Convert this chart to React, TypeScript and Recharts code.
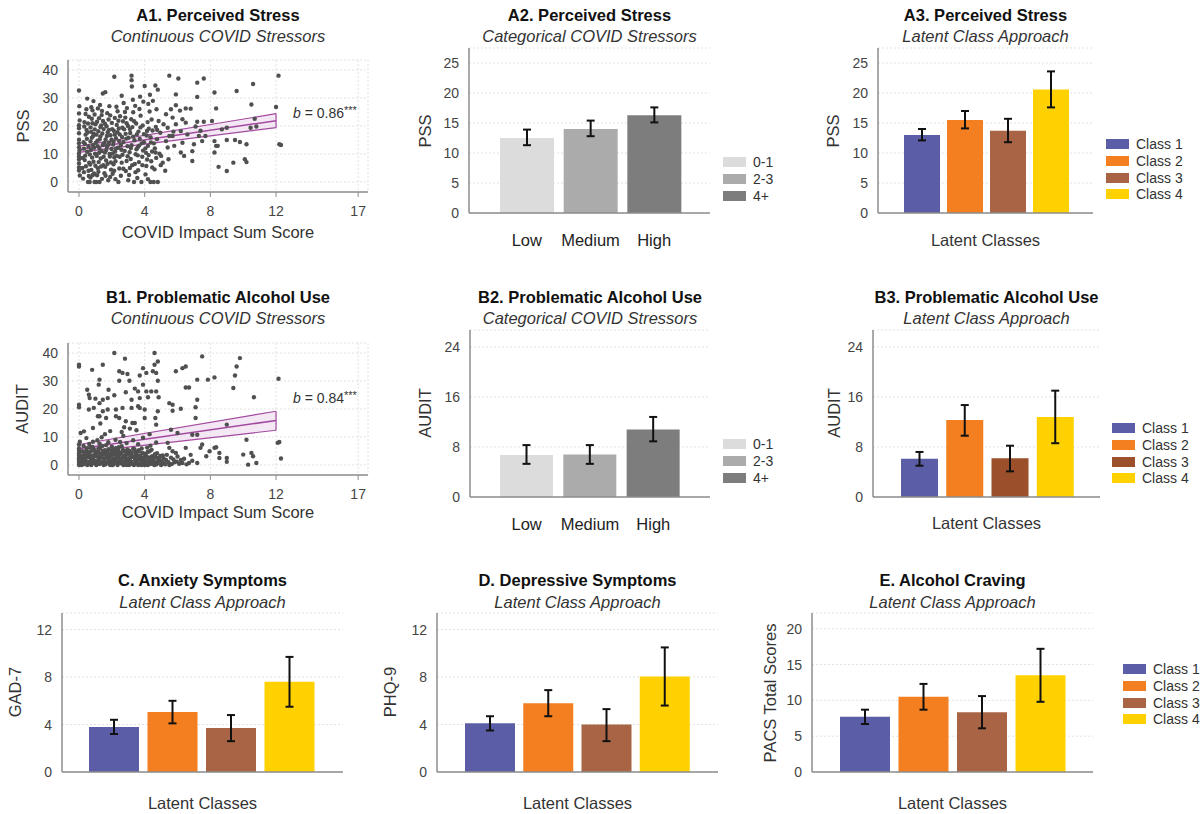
import React from "react";
import {
  ComposedChart, BarChart, Bar, Cell, ErrorBar, XAxis, YAxis, CartesianGrid,
  Scatter, Line, Area, ReferenceLine,
} from "recharts";

const FONT = '"Liberation Sans", Arial, sans-serif';

// ---------- data ----------
const stressGroups = ["Low", "Medium", "High"];
const stressLegend = ["0-1", "2-3", "4+"];
const grayFills = ["#dcdcdc", "#ababab", "#7d7d7d"];

const classNames = ["Class 1", "Class 2", "Class 3", "Class 4"];
const classFills = ["#5b5ea6", "#f37f21", "#a86444", "#ffd100"];
const classFillsB3 = ["#5b5ea6", "#f37f21", "#9c4f2b", "#ffd100"];

// A2 / B2 (categorical stressors)
const pssGroup = [12.5, 14.0, 16.3];
const pssGroupLo = [11.3, 12.8, 15.1];
const pssGroupHi = [13.9, 15.4, 17.6];
const auditGroup = [6.7, 6.8, 10.8];
const auditGroupLo = [5.3, 5.3, 8.9];
const auditGroupHi = [8.3, 8.3, 12.8];

// latent class panels
const pssClass = [13.0, 15.5, 13.7, 20.6];
const pssClassLo = [12.1, 14.1, 11.8, 17.6];
const pssClassHi = [14.0, 17.0, 15.7, 23.6];
const auditClass = [6.1, 12.3, 6.2, 12.8];
const auditClassLo = [5.0, 9.8, 4.1, 8.6];
const auditClassHi = [7.2, 14.7, 8.2, 17.0];
const gadClass = [3.8, 5.05, 3.7, 7.6];
const gadClassLo = [3.2, 4.1, 2.6, 5.5];
const gadClassHi = [4.4, 6.0, 4.8, 9.7];
const phqClass = [4.1, 5.8, 4.0, 8.05];
const phqClassLo = [3.5, 4.7, 2.6, 5.6];
const phqClassHi = [4.7, 6.9, 5.3, 10.5];
const pacsClass = [7.7, 10.5, 8.35, 13.5];
const pacsClassLo = [6.7, 8.7, 6.1, 9.8];
const pacsClassHi = [8.7, 12.3, 10.6, 17.2];

// regression fits (A1 / B1)
const fitX = [0, 12];
const pssFit = [11.6, 21.9];
const pssCiLo = [10.6, 19.4];
const pssCiHi = [12.8, 24.4];
const auditFit = [5.8, 15.9];
const auditCiLo = [4.4, 12.4];
const auditCiHi = [7.3, 19.2];

// A1 scatter: COVID impact sum score vs PSS
const pssPoints: [number, number][] = [
  [0,32.7],[0,24.5],[0,20.3],[0,19.2],[0,17.4],[0,15.1],[0,13.8],[0,12.4],[0,10.2],[0,9.1],[0,8.0],[0,6.6],[0,5.2],[0,4.1],[0.05,2.3],[0.02,27.1],[0.04,22.0],[0.03,11.3],
  [0.25,1.2],[0.3,3.5],[0.35,7.8],[0.28,14.2],[0.4,16.9],[0.33,21.4],[0.45,26.0],[0.5,29.8],[0.55,0.0],[0.6,2.1],[0.42,5.6],[0.5,10.8],[0.58,12.7],[0.46,18.6],[0.6,23.3],[0.38,9.4],
  [0.65,0.0],[0.7,1.6],[0.75,4.3],[0.68,6.2],[0.8,8.7],[0.72,11.4],[0.85,13.1],[0.78,15.8],[0.9,17.2],[0.7,19.5],[0.82,21.0],[0.95,24.1],[0.75,26.7],[0.88,28.9],[0.95,0.0],[0.92,3.0],[1.0,5.8],[0.98,10.1],[0.86,16.4],[1.0,20.6],
  [1.05,0.0],[1.1,2.4],[1.15,4.9],[1.2,7.1],[1.08,9.3],[1.25,11.9],[1.12,14.7],[1.3,16.3],[1.18,18.1],[1.35,20.2],[1.22,22.8],[1.4,25.4],[1.28,27.5],[1.45,31.6],[1.4,1.1],[1.48,6.0],[1.32,8.4],[1.45,13.2],[1.38,23.9],[1.15,26.3],[1.5,18.9],[1.25,0.0],
  [1.55,3.1],[1.6,5.4],[1.65,7.7],[1.58,10.5],[1.7,12.6],[1.62,15.2],[1.75,17.8],[1.68,19.9],[1.8,22.3],[1.72,24.6],[1.85,27.1],[1.9,1.8],[1.95,4.4],[1.88,9.1],[1.98,11.8],[1.82,14.0],[1.92,16.7],[2.0,21.1],[1.6,32.1],[1.78,0.6],
  [2.05,2.9],[2.1,6.3],[2.15,8.8],[2.2,10.9],[2.08,13.4],[2.25,15.6],[2.12,18.3],[2.3,20.4],[2.18,22.9],[2.35,25.3],[2.15,37.6],[2.4,0.0],[2.45,4.8],[2.38,12.2],[2.48,17.0],[2.42,19.1],[2.28,26.9],[2.5,23.5],[2.22,1.0],
  [2.55,2.2],[2.6,6.9],[2.65,9.7],[2.58,11.5],[2.7,14.3],[2.62,16.1],[2.75,18.8],[2.68,21.7],[2.8,25.0],[2.72,28.2],[2.85,3.9],[2.9,7.5],[2.95,12.8],[2.88,15.5],[2.98,20.0],[2.82,23.0],[2.92,26.4],[2.6,30.8],[3.0,0.6],
  [3.05,2.5],[3.1,5.0],[3.15,8.2],[3.08,10.6],[3.2,13.1],[3.12,17.5],[3.25,19.6],[3.18,22.4],[3.3,24.9],[3.22,34.1],[3.2,36.4],[3.2,38.0],[3.35,0.0],[3.4,6.4],[3.45,9.9],[3.38,14.9],[3.48,20.9],[3.42,27.2],[3.28,29.4],[3.5,11.7],
  [3.55,1.4],[3.6,4.2],[3.65,7.1],[3.58,12.4],[3.7,15.4],[3.62,18.0],[3.75,23.7],[3.68,26.1],[3.8,0.0],[3.85,9.0],[3.9,11.2],[3.82,13.8],[3.95,17.1],[3.88,20.2],[3.92,28.7],[4.0,34.3],[3.72,30.5],
  [4.05,2.7],[4.1,5.7],[4.15,8.0],[4.08,10.4],[4.2,12.9],[4.12,16.6],[4.25,19.0],[4.18,21.4],[4.3,25.2],[4.22,27.9],[4.2,1.0],[4.35,0.0],[4.4,7.4],[4.45,10.9],[4.38,14.1],[4.48,18.4],[4.42,22.3],[4.32,31.2],[4.5,29.0],
  [4.55,0.0],[4.65,34.5],[4.8,33.0],[4.6,4.5],[4.7,8.6],[4.62,12.0],[4.75,15.3],[4.68,19.7],[4.85,21.8],[4.72,26.0],[4.9,10.1],[4.95,17.6],[4.8,0.0],[4.98,6.0],
  [5.0,9.3],[5.1,6.9],[5.15,20.6],[5.3,14.6],[5.3,24.2],[5.4,12.3],[5.4,19.4],[5.5,16.4],[5.5,38.0],[5.7,16.4],[5.7,23.0],[5.8,12.9],[5.9,20.6],[5.9,27.4],[5.9,31.3],[5.25,4.0],[5.6,26.0],[5.45,8.1],[5.75,18.0],
  [6.05,37.0],[6.2,10.5],[6.2,18.2],[6.3,14.0],[6.3,22.4],[6.4,9.3],[6.5,21.2],[6.5,26.3],[6.8,26.2],[6.9,7.5],[6.9,11.0],[6.6,17.0],[6.15,25.5],
  [7.0,13.5],[7.1,19.8],[7.2,21.5],[7.2,30.4],[7.2,35.5],[7.3,16.4],[7.5,14.6],[7.6,21.5],[7.6,37.0],[7.7,16.4],[7.4,18.3],
  [8.1,21.8],[8.25,32.0],[8.25,14.6],[8.25,10.5],[8.35,26.3],[8.35,12.9],[8.45,12.9],[8.5,5.4],[8.7,18.8],[9.0,19.4],[9.0,15.0],[9.0,3.9],[9.4,6.9],[9.5,15.0],[9.6,32.5],[9.8,14.3],
  [10.1,8.1],[10.2,7.1],[10.2,13.5],[10.45,19.4],[10.5,27.7],[10.6,35.0],[10.7,22.6],[10.8,19.8],[12.0,26.8],[12.15,38.0],[12.2,13.5],[12.3,13.2],
  // dense core
  [0.2,5.0],[0.22,8.6],[0.3,11.9],[0.36,13.6],[0.32,19.8],[0.4,24.3],[0.48,15.4],[0.52,17.7],[0.55,20.9],[0.58,4.0],[0.62,6.9],[0.66,9.8],[0.7,14.5],[0.74,17.9],[0.78,22.6],[0.82,25.6],
  [0.84,2.5],[0.88,7.2],[0.92,12.2],[0.96,18.8],[1.02,14.0],[1.06,16.9],[1.1,21.5],[1.14,12.8],[1.18,3.6],[1.22,10.4],[1.26,15.2],[1.3,19.6],[1.34,5.5],[1.38,11.0],[1.42,17.3],[1.46,21.8],
  [1.5,9.0],[1.54,13.9],[1.58,20.8],[1.62,2.2],[1.66,11.4],[1.7,16.4],[1.74,6.5],[1.78,13.3],[1.82,18.6],[1.86,10.0],[1.9,23.8],[1.94,7.0],[1.98,15.1],[2.02,18.9],[2.06,10.2],[2.1,14.4],
  [2.14,4.0],[2.18,16.9],[2.22,7.4],[2.26,12.0],[2.3,9.3],[2.34,17.8],[2.4,21.9],[2.44,14.6],[2.48,9.0],[2.55,13.2],[2.64,19.4],[2.7,4.7],[2.78,11.1],[2.84,17.2],[2.9,21.0],[2.96,9.2],
  [3.02,15.8],[3.1,18.9],[3.16,12.1],[3.24,6.0],[3.3,16.2],[3.36,21.7],[3.44,3.5],[3.52,17.0],[3.58,9.5],[3.66,13.0],[3.74,19.5],[3.86,6.0],[3.96,14.2],[4.04,12.0],[4.14,18.2],[4.24,9.6],
  [4.36,16.0],[4.46,5.2],[4.56,13.8],[4.66,10.5],[4.76,18.6],
];

// B1 scatter: COVID impact sum score vs AUDIT
const auditPoints: [number, number][] = [
  [0,35.8],[0,35.2],[0,21.5],[0,20.6],[0,7.3],[0,0],[0,0.8],[0,1.6],[0,2.4],[0,3.3],[0,4.1],[0,5.0],[0,5.9],[0.1,11.4],[0.05,8.3],
  [0.15,0],[0.2,1.2],[0.25,2.6],[0.3,0.4],[0.35,3.8],[0.4,1.9],[0.45,5.2],[0.5,0],[0.55,2.9],[0.6,4.4],[0.65,1.1],[0.7,6.3],[0.75,0],[0.8,3.4],[0.85,2.0],[0.9,5.7],[0.95,0.6],[1.0,3.9],[0.28,6.8],[0.62,7.5],[0.45,9.6],[0.85,8.3],[0.85,13.2],
  [1.05,0],[1.1,1.6],[1.15,4.7],[1.2,2.8],[1.25,0.3],[1.3,6.1],[1.35,3.5],[1.4,1.0],[1.45,5.0],[1.5,0],[1.55,2.3],[1.6,4.2],[1.65,7.1],[1.7,0.8],[1.75,3.0],[1.8,5.6],[1.85,1.5],[1.9,0],[1.95,3.8],[2.0,6.5],[1.12,8.8],[1.38,9.9],[1.58,11.0],[1.78,8.1],[1.25,7.6],
  [2.05,0],[2.1,2.1],[2.15,4.5],[2.2,1.2],[2.25,6.0],[2.3,3.2],[2.35,0],[2.4,5.1],[2.45,1.8],[2.5,3.9],[2.55,0.6],[2.6,6.7],[2.65,2.7],[2.7,0],[2.75,4.8],[2.8,1.4],[2.85,3.5],[2.9,0],[2.95,5.5],[3.0,2.2],[2.22,9.0],[2.5,8.2],[2.7,10.4],[2.9,7.8],
  [3.05,0],[3.1,1.7],[3.15,4.0],[3.2,0.5],[3.25,2.9],[3.3,5.8],[3.35,0],[3.4,2.4],[3.45,4.6],[3.5,1.0],[3.55,3.4],[3.6,0],[3.65,5.3],[3.7,1.9],[3.75,3.0],[3.8,0],[3.85,4.3],[3.9,1.3],[3.95,2.6],[4.0,0],[3.3,8.8],[3.6,7.4],[3.9,9.7],
  [4.05,3.6],[4.1,1.1],[4.2,0],[4.25,2.5],[4.3,4.9],[4.4,0.4],[4.45,3.1],[4.5,1.5],[4.6,0],[4.65,2.9],[4.75,4.2],[4.8,0.7],[4.9,2.0],[5.0,0],[4.35,6.9],[4.7,8.0],[4.15,6.2],
  [5.1,3.4],[5.2,0.5],[5.3,1.8],[5.5,0],[5.6,2.6],[5.7,4.9],[5.8,0.9],[6.0,3.0],[6.1,0.4],[6.3,0.7],[6.4,2.2],[6.7,0.7],[6.8,3.6],[5.4,7.9],[5.5,6.1],[5.9,4.3],[6.5,6.1],
  [0.8,34.0],[1.45,35.8],[2.15,40.0],[2.8,38.0],[4.6,40.0],[4.8,37.0],[4.6,35.8],[4.5,33.5],[2.45,33.5],[2.65,32.9],[2.95,32.5],[3.07,30.1],[2.45,30.1],[3.9,34.6],[4.1,32.9],[3.7,32.0],[4.7,32.9],[4.8,30.1],
  [5.9,33.5],[6.3,34.6],[6.5,35.2],[7.5,38.8],[9.8,38.2],[9.6,35.2],[9.5,32.0],[8.25,31.3],[7.85,30.5],[7.2,30.5],[6.5,27.7],[6.7,27.7],[9.4,27.5],[10.65,24.2],[12.15,30.8],
  [1.25,30.5],[1.2,28.7],[0.5,26.9],[0.6,25.1],[0.65,23.9],[1.0,23.7],[1.25,22.1],[1.45,23.3],[1.75,23.9],[1.8,26.9],[2.15,24.9],[2.85,26.0],[3.2,23.3],[3.4,27.3],[3.6,26.3],[3.9,28.7],[4.1,26.3],[4.4,26.3],[4.7,26.3],[4.85,24.2],[4.2,24.2],[3.7,23.9],
  [0.6,19.8],[0.9,20.4],[1.25,17.4],[1.45,19.2],[1.75,19.8],[2.25,19.8],[2.65,20.4],[3.2,20.4],[3.6,21.0],[3.7,20.4],[4.0,19.8],[4.8,19.2],[5.5,22.1],[5.7,21.5],[5.7,19.4],[6.2,20.1],[7.1,20.6],[7.2,23.3],[7.1,16.8],
  [4.65,16.8],[4.7,14.4],[4.0,16.8],[3.4,15.0],[3.25,15.0],[2.85,15.6],[2.75,13.5],[2.25,17.4],[2.45,16.8],[1.65,16.8],[1.15,17.4],
  [1.9,12.1],[2.6,11.8],[3.1,13.0],[3.5,12.4],[4.3,11.0],[1.3,14.8],[0.3,12.0],[5.6,12.6],[6.0,11.4],
  [9.0,14.4],[6.9,10.8],[7.2,10.8],[7.5,7.3],[7.4,6.1],[8.25,6.1],[8.35,6.3],[8.55,4.3],[8.55,2.5],[9.0,2.5],[9.0,1.1],[7.95,4.9],[10.2,9.0],[10.0,3.7],[10.5,4.3],[10.6,3.1],[10.3,0.1],[10.8,0.7],[12.1,7.9],[12.2,8.2],[12.3,2.3],[7.75,3.1],[7.2,0.7],
  // dense low band
  [0.1,0.6],[0.12,2.0],[0.18,3.4],[0.22,4.9],[0.26,0.2],[0.32,1.5],[0.38,2.8],[0.42,4.2],[0.48,6.0],[0.52,1.0],[0.58,3.6],[0.63,0.3],[0.68,2.5],[0.72,4.9],[0.78,1.8],[0.82,6.4],
  [0.88,0.9],[0.92,3.0],[0.98,4.8],[1.02,1.4],[1.08,3.2],[1.14,0.5],[1.18,5.9],[1.22,2.0],[1.28,4.1],[1.32,0.8],[1.38,2.6],[1.42,6.8],[1.48,3.7],[1.52,1.3],[1.58,5.3],[1.62,0.2],
  [1.68,3.3],[1.72,5.0],[1.78,1.9],[1.82,4.0],[1.88,0.7],[1.92,2.9],[1.98,5.1],[2.02,1.5],[2.08,3.6],[2.12,0.3],[2.18,5.6],[2.24,2.4],[2.28,4.4],[2.32,1.1],[2.38,3.0],[2.42,6.3],
  [2.48,0.8],[2.52,2.3],[2.58,4.5],[2.62,1.3],[2.68,5.4],[2.72,3.2],[2.78,0.4],[2.82,2.6],[2.88,4.9],[2.92,1.8],[2.98,3.9],[3.02,0.9],[3.08,5.0],[3.12,2.8],[3.18,1.2],[3.22,4.4],
  [3.28,0.2],[3.32,3.0],[3.38,5.6],[3.42,1.5],[3.48,3.7],[3.52,0.6],[3.58,2.1],[3.62,4.8],[3.68,0.4],[3.72,3.3],[3.78,1.6],[3.82,5.9],[3.88,2.4],[3.92,0.5],[3.98,4.0],[4.02,1.8],
  [4.08,0.2],[4.12,3.0],[4.18,4.6],[4.22,1.2],[4.28,0.5],[4.32,2.7],[4.38,1.6],[4.42,5.4],[4.48,0.3],[4.55,2.2],[4.62,3.8],[4.68,1.0],[4.72,0.2],[4.78,2.5],[4.85,1.4],[4.95,3.2],
  [5.05,1.1],[5.15,2.3],[5.25,0.2],[5.35,3.6],[5.45,1.0],[5.65,0.3],[5.75,2.0],[5.95,1.2],[6.2,1.8],[6.55,0.2],[6.9,1.5],
];

// ---------- layout helpers ----------
type Box = { x0: number; y0: number; x1: number; y1: number };
const YW = 50, MT = 12, MR = 14, XH = 48;
const AXIS = { stroke: "#8c8c8c", strokeWidth: 1.5 };
const PURPLE = "#a24a9f";

function frame(b: Box) {
  return {
    style: { position: "absolute", left: b.x0 - YW, top: b.y0 - MT } as React.CSSProperties,
    width: b.x1 - b.x0 + YW + MR,
    height: b.y1 - b.y0 + MT + XH,
  };
}

function Label({ cx, cy, size = 16.5, bold = false, italic = false, rotate = false, children }: any) {
  return (
    <div style={{
      position: "absolute", left: cx, top: cy, whiteSpace: "nowrap", lineHeight: 1,
      transform: `translate(-50%,-50%)${rotate ? " rotate(-90deg)" : ""}`,
      fontSize: size, fontWeight: bold ? 700 : 400, fontStyle: italic ? "italic" : "normal",
      color: bold ? "#111" : "#333", fontFamily: FONT,
    }}>{children}</div>
  );
}

function Legend({ left, top, labels, fills }: { left: number; top: number; labels: string[]; fills: string[] }) {
  return (
    <div style={{ position: "absolute", left, top: top - 8, fontFamily: FONT }}>
      {labels.map((l, i) => (
        <div key={l} style={{ display: "flex", alignItems: "center", height: 16.7 }}>
          <div style={{ width: 23, height: 10, background: fills[i], marginRight: 7 }} />
          <span style={{ fontSize: 14, color: "#333" }}>{l}</span>
        </div>
      ))}
    </div>
  );
}

function toRows(names: string[], v: number[], lo: number[], hi: number[]) {
  return names.map((name, i) => ({ name, v: v[i], err: [v[i] - lo[i], hi[i] - v[i]] }));
}

const Dot = (p: any) => <circle cx={p.cx} cy={p.cy} r={2.2} fill="#505050" />;

function ScatterPanel({ box, points, fit, lo, hi }: { box: Box; points: [number, number][]; fit: number[]; lo: number[]; hi: number[] }) {
  const f = frame(box);
  const fitRows = fitX.map((x, i) => ({ x, fit: fit[i], ci: [lo[i], hi[i]] }));
  const pts = points.map(([x, y]) => ({ x, y }));
  return (
    <div style={f.style}>
      <ComposedChart width={f.width} height={f.height} data={fitRows} margin={{ top: MT, right: MR, left: 0, bottom: 0 }}>
        <CartesianGrid stroke="#e2e2e2" strokeDasharray="2 2" />
        <XAxis type="number" dataKey="x" domain={[-0.67, 17.6]} ticks={[0, 4, 8, 12, 17]} interval={0} allowDataOverflow
          height={XH} axisLine={AXIS} tickLine={{ stroke: "#8c8c8c" }} tickSize={5} tickMargin={9}
          tick={{ fill: "#444", fontSize: 14, fontFamily: FONT }} />
        <YAxis type="number" domain={[-3.6, 43.6]} ticks={[0, 10, 20, 30, 40]} interval={0} allowDataOverflow
          width={YW} axisLine={AXIS} tickLine={false} tickMargin={4}
          tick={{ fill: "#444", fontSize: 14, fontFamily: FONT }} />
        <Scatter data={pts} dataKey="y" shape={Dot} isAnimationActive={false} />
        <Area type="linear" dataKey="ci" fill="#efd9ee" fillOpacity={0.6} stroke={PURPLE} strokeWidth={1.2} dot={false} activeDot={false} isAnimationActive={false} />
        <Line type="linear" dataKey="fit" stroke={PURPLE} strokeWidth={1.5} dot={false} activeDot={false} isAnimationActive={false} />
        {fitX.map((x, i) => (
          <ReferenceLine key={x} segment={[{ x, y: lo[i] }, { x, y: hi[i] }]} stroke={PURPLE} strokeWidth={1.2} />
        ))}
      </ComposedChart>
    </div>
  );
}

function BarPanel({ box, rows, fills, domain, ticks, barSize, pad, cats = false }: any) {
  const f = frame(box);
  return (
    <div style={f.style}>
      <BarChart width={f.width} height={f.height} data={rows} margin={{ top: MT, right: MR, left: 0, bottom: 0 }}>
        <CartesianGrid vertical={false} stroke="#e2e2e2" strokeDasharray="2 2" />
        <XAxis dataKey="name" height={XH} padding={pad} axisLine={AXIS} tickLine={false} interval={0}
          tickMargin={15} tick={cats ? { fill: "#222", fontSize: 16.5, fontFamily: FONT } : false} />
        <YAxis type="number" domain={domain} ticks={ticks} interval={0} allowDataOverflow width={YW}
          axisLine={AXIS} tickLine={false} tickMargin={4} tick={{ fill: "#444", fontSize: 14, fontFamily: FONT }} />
        <Bar dataKey="v" barSize={barSize} isAnimationActive={false}>
          {rows.map((_: any, i: number) => <Cell key={i} fill={fills[i]} />)}
          <ErrorBar dataKey="err" width={4} stroke="#111" strokeWidth={2} isAnimationActive={false} />
        </Bar>
      </BarChart>
    </div>
  );
}

function BText({ left, cy, value }: { left: number; cy: number; value: string }) {
  return (
    <div style={{ position: "absolute", left, top: cy - 8, fontFamily: FONT, fontSize: 14, color: "#333", whiteSpace: "nowrap", lineHeight: "16px" }}>
      <i>b</i> = {value}<span style={{ fontSize: 11, verticalAlign: 4, color: "#333" }}>***</span>
    </div>
  );
}

export default function App() {
  const A1: Box = { x0: 68, y0: 60, x1: 368, y1: 192 };
  const B1: Box = { x0: 68, y0: 343, x1: 368, y1: 475 };
  const A2: Box = { x0: 469, y0: 48, x1: 710, y1: 213 };
  const A3: Box = { x0: 878, y0: 48, x1: 1093, y1: 213 };
  const B2: Box = { x0: 470, y0: 330, x1: 710, y1: 497 };
  const B3: Box = { x0: 873, y0: 330, x1: 1100, y1: 497 };
  const C: Box = { x0: 62, y0: 613, x1: 343, y1: 772 };
  const D: Box = { x0: 437, y0: 613, x1: 718, y1: 772 };
  const E: Box = { x0: 812, y0: 613, x1: 1093, y1: 772 };
  const mid = (b: Box) => (b.x0 + b.x1) / 2;

  return (
    <div style={{ position: "fixed", left: 0, top: 0, width: 1203, height: 814, background: "#fff", overflow: "hidden", fontFamily: FONT }}>
      {/* row A */}
      <Label cx={mid(A1)} cy={15} bold>A1. Perceived Stress</Label>
      <Label cx={mid(A1)} cy={36} italic>Continuous COVID Stressors</Label>
      <ScatterPanel box={A1} points={pssPoints} fit={pssFit} lo={pssCiLo} hi={pssCiHi} />
      <Label cx={23} cy={126} rotate>PSS</Label>
      <Label cx={mid(A1)} cy={232}>COVID Impact Sum Score</Label>
      <BText left={293} cy={110} value="0.86" />

      <Label cx={mid(A2)} cy={15} bold>A2. Perceived Stress</Label>
      <Label cx={mid(A2)} cy={36} italic>Categorical COVID Stressors</Label>
      <BarPanel box={A2} rows={toRows(stressGroups, pssGroup, pssGroupLo, pssGroupHi)} fills={grayFills}
        domain={[0, 27.5]} ticks={[0, 5, 10, 15, 20, 25]} barSize={54} pad={{ left: 26, right: 24 }} cats />
      <Label cx={425} cy={131} rotate>PSS</Label>
      <Legend left={723} top={162} labels={stressLegend} fills={grayFills} />

      <Label cx={mid(A3)} cy={15} bold>A3. Perceived Stress</Label>
      <Label cx={mid(A3)} cy={36} italic>Latent Class Approach</Label>
      <BarPanel box={A3} rows={toRows(classNames, pssClass, pssClassLo, pssClassHi)} fills={classFills}
        domain={[0, 27.5]} ticks={[0, 5, 10, 15, 20, 25]} barSize={36} pad={{ left: 22, right: 21 }} />
      <Label cx={833} cy={131} rotate>PSS</Label>
      <Label cx={mid(A3)} cy={240}>Latent Classes</Label>
      <Legend left={1106} top={144} labels={classNames} fills={classFills} />

      {/* row B */}
      <Label cx={mid(B1)} cy={297} bold>B1. Problematic Alcohol Use</Label>
      <Label cx={mid(B1)} cy={318} italic>Continuous COVID Stressors</Label>
      <ScatterPanel box={B1} points={auditPoints} fit={auditFit} lo={auditCiLo} hi={auditCiHi} />
      <Label cx={22} cy={409} rotate>AUDIT</Label>
      <Label cx={mid(B1)} cy={512}>COVID Impact Sum Score</Label>
      <BText left={293} cy={395} value="0.84" />

      <Label cx={mid(B2)} cy={297} bold>B2. Problematic Alcohol Use</Label>
      <Label cx={mid(B2)} cy={318} italic>Categorical COVID Stressors</Label>
      <BarPanel box={B2} rows={toRows(stressGroups, auditGroup, auditGroupLo, auditGroupHi)} fills={grayFills}
        domain={[0, 26.7]} ticks={[0, 8, 16, 24]} barSize={53} pad={{ left: 25, right: 25 }} cats />
      <Label cx={425} cy={413} rotate>AUDIT</Label>
      <Legend left={723} top={444} labels={stressLegend} fills={grayFills} />

      <Label cx={mid(B3)} cy={297} bold>B3. Problematic Alcohol Use</Label>
      <Label cx={mid(B3)} cy={318} italic>Latent Class Approach</Label>
      <BarPanel box={B3} rows={toRows(classNames, auditClass, auditClassLo, auditClassHi)} fills={classFillsB3}
        domain={[0, 26.7]} ticks={[0, 8, 16, 24]} barSize={37} pad={{ left: 24, right: 22 }} />
      <Label cx={834} cy={413} rotate>AUDIT</Label>
      <Label cx={mid(B3)} cy={523}>Latent Classes</Label>
      <Legend left={1112} top={428} labels={classNames} fills={classFillsB3} />

      {/* row C-E */}
      <Label cx={mid(C)} cy={580} bold>C. Anxiety Symptoms</Label>
      <Label cx={mid(C)} cy={602} italic>Latent Class Approach</Label>
      <BarPanel box={C} rows={toRows(classNames, gadClass, gadClassLo, gadClassHi)} fills={classFills}
        domain={[0, 13.4]} ticks={[0, 4, 8, 12]} barSize={50} pad={{ left: 23, right: 24 }} />
      <Label cx={15} cy={692} rotate>GAD-7</Label>
      <Label cx={mid(C)} cy={803}>Latent Classes</Label>

      <Label cx={mid(D)} cy={580} bold>D. Depressive Symptoms</Label>
      <Label cx={mid(D)} cy={602} italic>Latent Class Approach</Label>
      <BarPanel box={D} rows={toRows(classNames, phqClass, phqClassLo, phqClassHi)} fills={classFills}
        domain={[0, 13.4]} ticks={[0, 4, 8, 12]} barSize={50} pad={{ left: 24, right: 24 }} />
      <Label cx={390} cy={692} rotate>PHQ-9</Label>
      <Label cx={mid(D)} cy={803}>Latent Classes</Label>

      <Label cx={mid(E)} cy={580} bold>E. Alcohol Craving</Label>
      <Label cx={mid(E)} cy={602} italic>Latent Class Approach</Label>
      <BarPanel box={E} rows={toRows(classNames, pacsClass, pacsClassLo, pacsClassHi)} fills={classFills}
        domain={[0, 22.2]} ticks={[0, 5, 10, 15, 20]} barSize={50} pad={{ left: 24, right: 23 }} />
      <Label cx={770} cy={693} rotate>PACS Total Scores</Label>
      <Label cx={mid(E)} cy={803}>Latent Classes</Label>
      <Legend left={1123} top={669} labels={classNames} fills={classFills} />
    </div>
  );
}
